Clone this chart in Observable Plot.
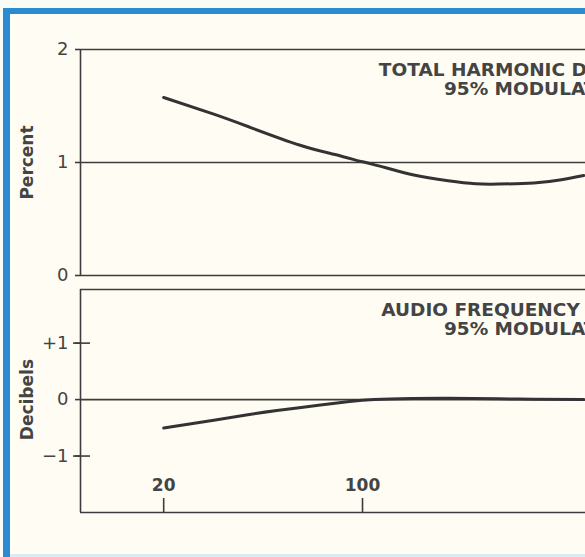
<!DOCTYPE html>
<html><head><meta charset="utf-8">
<script src="https://cdn.jsdelivr.net/npm/d3@7"></script>
<script src="https://cdn.jsdelivr.net/npm/@observablehq/plot@0.6"></script>
<style>
html,body{margin:0;padding:0;background:#fbfbf6;}
#wrap{position:relative;width:585px;height:557px;overflow:hidden;background:#fbfbf6;}
#paper{position:absolute;left:10px;top:14px;right:0;bottom:0;background:#fffdf3;}
.stripe{position:absolute;background:#2a8bd2;}
.plot{position:absolute;left:0;}
</style></head><body>
<div id="wrap">
  <div id="paper"></div>
  <div class="stripe" style="left:3px;top:8px;width:7px;height:549px;"></div>
  <div class="stripe" style="left:3px;top:8px;width:582px;height:6px;"></div>
  <div style="position:absolute;left:10px;top:554px;width:575px;height:3px;background:#d6ecf7;"></div>
  <div class="plot" id="p1" style="top:0px"></div>
  <div class="plot" id="p2" style="top:285px"></div>
</div>
<script>
// ---- data ----
const freqTHD = [20, 30, 40, 60, 80, 100, 120, 150, 200, 250, 300, 400, 500, 600];
const thdPct  = [1.575, 1.428, 1.314, 1.155, 1.071, 1.006, 0.956, 0.892, 0.839, 0.812, 0.809, 0.819, 0.848, 0.885];
const freqResp = [20, 30, 40, 50, 70, 90, 110, 150, 200, 300, 400, 600];
const respDb   = [-0.505, -0.365, -0.265, -0.195, -0.10, -0.035, 0, 0.02, 0.025, 0.015, 0.005, 0];
const xTicks = [20, 100];
const xTickLabels = ["20", "100"];
const pctTicks = [0, 1, 2];
const pctTickLabels = ["0", "1", "2"];
const dbTicks = [-1, 0, 1];
const dbTickLabels = ["\u22121", "0", "+1"];
const dbCrossTicks = [-1, 1];
const xDomain = [10.2, 608];
const pctDomain = [0, 2];
const dbDomain = [-2, 1.95];
const titleTop = "TOTAL HARMONIC DISTORTION\n95% MODULATION";
const titleBottom = "AUDIO FREQUENCY RESPONSE\n95% MODULATION";
const titleFreq = 418;
const titleTopY = 1.735;
const titleBottomY = 1.42;
const yLabelTop = "Percent";
const yLabelBottom = "Decibels";

const ink = "#3c3c3c";
const txt = "#444444";
const thd = freqTHD.map((f, i) => ({f, v: thdPct[i]}));
const resp = freqResp.map((f, i) => ({f, v: respDb[i]}));

const common = {
  width: 585, marginLeft: 80, marginRight: 0,
  style: {background: "transparent", color: txt, overflow: "hidden"},
  x: {type: "log", domain: xDomain, axis: null}
};
const titleStyle = {fontFamily: "DejaVu Sans", fontWeight: "bold", fontSize: 18.5, fill: txt, lineHeight: 1.03, textAnchor: "middle"};
const ylabStyle = {fontFamily: "DejaVu Sans", fontWeight: "bold", fontSize: 17, fill: txt, rotate: -90, frameAnchor: "left", textAnchor: "middle", dx: -53};
const tickFont = {fontSize: 18, fontFamily: "DejaVu Sans", stroke: ink, strokeWidth: 1.6, label: null};

const p1 = Plot.plot({
  ...common,
  height: 285, marginTop: 49, marginBottom: 10,
  y: {domain: pctDomain, axis: null},
  marks: [
    Plot.ruleY(pctTicks, {stroke: ink, strokeWidth: 1.6}),
    Plot.ruleX([xDomain[0]], {y1: pctDomain[0], y2: pctDomain[1], stroke: ink, strokeWidth: 1.6}),
    Plot.axisY({ticks: pctTicks, tickSize: 5, tickPadding: 7, tickFormat: d => pctTickLabels[pctTicks.indexOf(d)], ...tickFont}),
    Plot.line(thd, {x: "f", y: "v", curve: "natural", stroke: "#333", strokeWidth: 3}),
    Plot.text([titleTop], {x: () => titleFreq, y: () => titleTopY, text: d => d, ...titleStyle}),
    Plot.text([yLabelTop], {y: () => 1, text: d => d, ...ylabStyle})
  ]
});
document.getElementById("p1").appendChild(p1);

const p2 = Plot.plot({
  ...common,
  height: 272, marginTop: 4, marginBottom: 45,
  y: {domain: dbDomain, axis: null},
  marks: [
    Plot.ruleY([dbDomain[0], 0, dbDomain[1]], {stroke: ink, strokeWidth: 1.6}),
    Plot.ruleX([xDomain[0]], {y1: dbDomain[0], y2: dbDomain[1], stroke: ink, strokeWidth: 1.6}),
    Plot.axisY({ticks: dbTicks, tickSize: 5, tickPadding: 7, tickFormat: d => dbTickLabels[dbTicks.indexOf(d)], ...tickFont}),
    Plot.axisY({ticks: dbCrossTicks, tickSize: 17, dx: 10, tickFormat: () => "", stroke: ink, strokeWidth: 1.6, label: null}),
    Plot.axisX({ticks: xTicks, tickSize: 14, dy: -14, tickFormat: () => "", stroke: ink, strokeWidth: 1.6, label: null}),
    Plot.text(xTicks, {x: d => d, text: d => xTickLabels[xTicks.indexOf(d)], frameAnchor: "bottom", lineAnchor: "middle", dy: -27,
      fontFamily: "DejaVu Sans", fontWeight: "bold", fontSize: 17, fill: txt}),
    Plot.line(resp, {x: "f", y: "v", curve: "natural", stroke: "#333", strokeWidth: 3}),
    Plot.text([titleBottom], {x: () => titleFreq, y: () => titleBottomY, text: d => d, ...titleStyle}),
    Plot.text([yLabelBottom], {y: () => 0, text: d => d, ...ylabStyle})
  ]
});
document.getElementById("p2").appendChild(p2);
</script>
</body></html>
